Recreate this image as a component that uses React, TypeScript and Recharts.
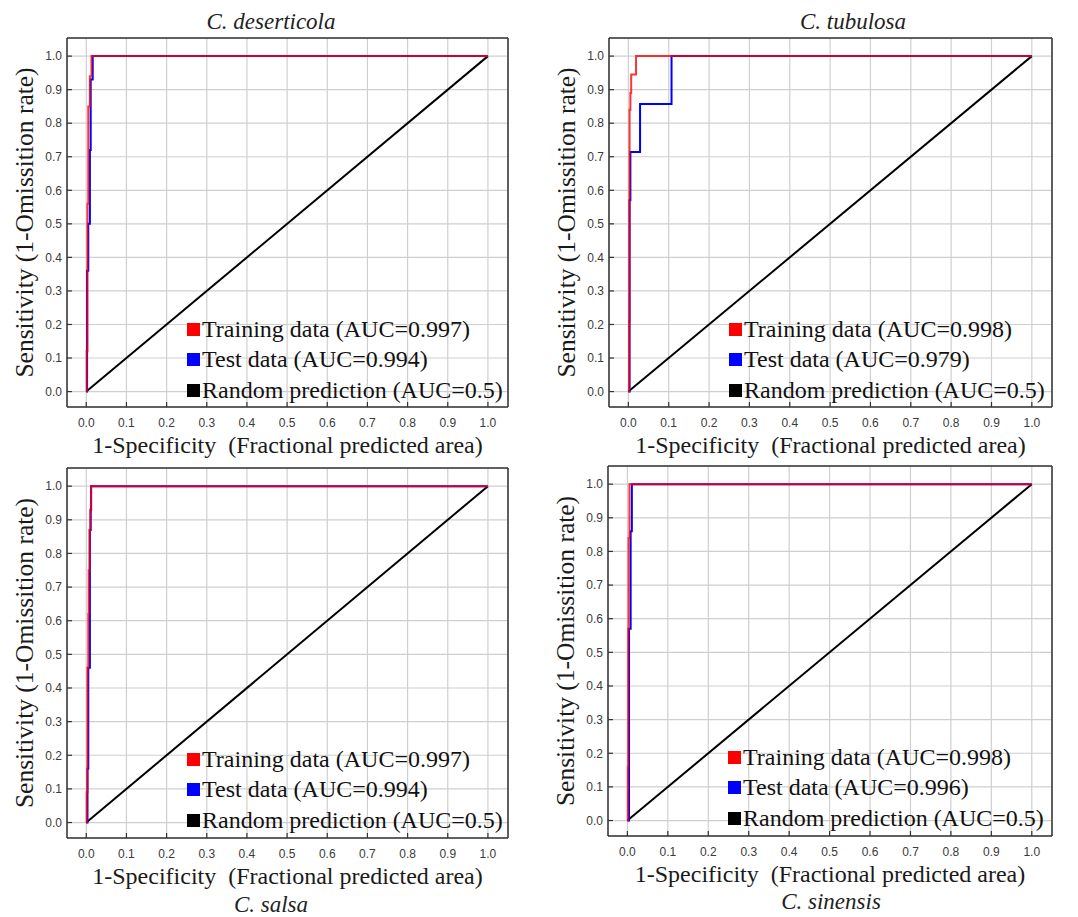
import React from 'react';
import { LineChart, Line, XAxis, YAxis, CartesianGrid, Legend } from 'recharts';

type Pt = { x: number; y: number };

const TICKS = [0, 0.1, 0.2, 0.3, 0.4, 0.5, 0.6, 0.7, 0.8, 0.9, 1.0];
const SPECIES = ['C. deserticola', 'C. tubulosa', 'C. salsa', 'C. sinensis'];
const TRAIN_AUC = ['0.997', '0.998', '0.997', '0.998'];
const TEST_AUC = ['0.994', '0.979', '0.994', '0.996'];
const RANDOM_AUC = '0.5';

// ROC vertices (1-specificity, sensitivity)
const deserticolaTrain: Pt[] = [
  { x: 0, y: 0 }, { x: 0.001, y: 0 }, { x: 0.001, y: 0.12 }, { x: 0.003, y: 0.12 },
  { x: 0.003, y: 0.56 }, { x: 0.005, y: 0.56 }, { x: 0.005, y: 0.85 }, { x: 0.009, y: 0.85 },
  { x: 0.009, y: 0.94 }, { x: 0.013, y: 0.94 }, { x: 0.013, y: 1 }, { x: 1, y: 1 },
];
const deserticolaTest: Pt[] = [
  { x: 0, y: 0 }, { x: 0.002, y: 0 }, { x: 0.002, y: 0.36 }, { x: 0.005, y: 0.36 },
  { x: 0.005, y: 0.5 }, { x: 0.009, y: 0.5 }, { x: 0.009, y: 0.72 }, { x: 0.011, y: 0.72 },
  { x: 0.011, y: 0.93 }, { x: 0.016, y: 0.93 }, { x: 0.016, y: 1 }, { x: 1, y: 1 },
];
const tubulosaTrain: Pt[] = [
  { x: 0, y: 0 }, { x: 0.002, y: 0 }, { x: 0.002, y: 0.21 }, { x: 0.003, y: 0.21 },
  { x: 0.003, y: 0.84 }, { x: 0.005, y: 0.84 }, { x: 0.005, y: 0.89 }, { x: 0.007, y: 0.89 },
  { x: 0.007, y: 0.945 }, { x: 0.019, y: 0.945 }, { x: 0.019, y: 1 }, { x: 1, y: 1 },
];
const tubulosaTest: Pt[] = [
  { x: 0, y: 0 }, { x: 0.003, y: 0 }, { x: 0.003, y: 0.57 }, { x: 0.005, y: 0.57 },
  { x: 0.005, y: 0.714 }, { x: 0.029, y: 0.714 }, { x: 0.029, y: 0.857 }, { x: 0.107, y: 0.857 },
  { x: 0.107, y: 1 }, { x: 1, y: 1 },
];
const salsaTrain: Pt[] = [
  { x: 0, y: 0 }, { x: 0.001, y: 0 }, { x: 0.001, y: 0.09 }, { x: 0.003, y: 0.09 },
  { x: 0.003, y: 0.46 }, { x: 0.005, y: 0.46 }, { x: 0.005, y: 0.62 }, { x: 0.006, y: 0.62 },
  { x: 0.006, y: 0.75 }, { x: 0.008, y: 0.75 }, { x: 0.008, y: 0.87 }, { x: 0.01, y: 0.87 },
  { x: 0.01, y: 0.93 }, { x: 0.012, y: 0.93 }, { x: 0.012, y: 1 }, { x: 1, y: 1 },
];
const salsaTest: Pt[] = [
  { x: 0, y: 0 }, { x: 0.003, y: 0 }, { x: 0.003, y: 0.16 }, { x: 0.005, y: 0.16 },
  { x: 0.005, y: 0.46 }, { x: 0.009, y: 0.46 }, { x: 0.009, y: 0.87 }, { x: 0.011, y: 0.87 },
  { x: 0.011, y: 0.93 }, { x: 0.012, y: 0.93 }, { x: 0.012, y: 1 }, { x: 1, y: 1 },
];
const sinensisTrain: Pt[] = [
  { x: 0, y: 0 }, { x: 0.001, y: 0 }, { x: 0.001, y: 0.16 }, { x: 0.002, y: 0.16 },
  { x: 0.002, y: 0.57 }, { x: 0.003, y: 0.57 }, { x: 0.003, y: 0.84 }, { x: 0.005, y: 0.84 },
  { x: 0.005, y: 1 }, { x: 1, y: 1 },
];
const sinensisTest: Pt[] = [
  { x: 0, y: 0 }, { x: 0.004, y: 0 }, { x: 0.004, y: 0.57 }, { x: 0.008, y: 0.57 },
  { x: 0.008, y: 0.86 }, { x: 0.011, y: 0.86 }, { x: 0.011, y: 1 }, { x: 1, y: 1 },
];
const randomLine: Pt[] = [{ x: 0, y: 0 }, { x: 1, y: 1 }];

const TRAIN = [deserticolaTrain, tubulosaTrain, salsaTrain, sinensisTrain];
const TEST = [deserticolaTest, tubulosaTest, salsaTest, sinensisTest];

// frame rectangle of each panel + title placement
const PANELS = [
  { left: 67, top: 38, w: 441, h: 369, titleX: 271, titleTop: 11 },
  { left: 609, top: 38, w: 443, h: 369, titleX: 853, titleTop: 11 },
  { left: 67, top: 468, w: 441, h: 370, titleX: 271, titleTop: 894 },
  { left: 608, top: 466, w: 444, h: 370, titleX: 831, titleTop: 891 },
];

const SERIF = '"Liberation Serif", "Times New Roman", serif';
const SANS = '"Liberation Sans", Arial, sans-serif';
const X_DOMAIN = [-0.048, 1.05];
const Y_DOMAIN = [-0.046, 1.054];
const FRAME = '#333';

function RocLegend({ items }: { items: { label: string; color: string }[] }) {
  return (
    <div style={{ fontFamily: SERIF, fontSize: 24, color: '#111' }}>
      {items.map((it) => (
        <div key={it.label} style={{ display: 'flex', alignItems: 'center', height: 30.5, whiteSpace: 'nowrap' }}>
          <span style={{ display: 'inline-block', width: 13, height: 13, background: it.color, marginRight: 2 }} />
          {it.label}
        </div>
      ))}
    </div>
  );
}

function RocPanel({ idx }: { idx: number }) {
  const p = PANELS[idx];
  const width = 70 + p.w + 11;
  const height = 40 + p.h + 60;
  const items = [
    { label: `Training data (AUC=${TRAIN_AUC[idx]})`, color: '#ff0000' },
    { label: `Test data (AUC=${TEST_AUC[idx]})`, color: '#0000ff' },
    { label: `Random prediction (AUC=${RANDOM_AUC})`, color: '#000000' },
  ];
  const tickStyle = { fontSize: 12, fontFamily: SANS, fill: '#3a3a3a' };

  return (
    <>
      <div
        style={{
          position: 'absolute', left: p.titleX - 150, top: p.titleTop, width: 300, textAlign: 'center',
          fontFamily: SERIF, fontStyle: 'italic', fontSize: 23, lineHeight: '22px', color: '#222',
        }}
      >
        {SPECIES[idx]}
      </div>
      <div style={{ position: 'absolute', left: p.left - 70, top: p.top - 40 }}>
        <LineChart width={width} height={height} margin={{ top: 39, right: 10, bottom: 0, left: 0 }}>
          <CartesianGrid stroke="#cfcfcf" strokeWidth={1.2} />
          <XAxis
            type="number" dataKey="x" domain={X_DOMAIN} ticks={TICKS} allowDataOverflow
            height={60} tickSize={-5} tickMargin={16} tick={tickStyle}
            tickFormatter={(v: number) => v.toFixed(1)}
            axisLine={{ stroke: FRAME, strokeWidth: 1.5 }} tickLine={{ stroke: FRAME, strokeWidth: 1.2 }}
            label={{
              value: '1-Specificity\u00a0 (Fractional predicted area)', position: 'insideBottom', offset: 14,
              style: { fontFamily: SERIF, fontSize: 24, fill: '#1a1a1a' },
            }}
          />
          <XAxis
            xAxisId="top" orientation="top" type="number" dataKey="x" domain={X_DOMAIN} ticks={TICKS}
            allowDataOverflow height={1} tickSize={-5} tick={false}
            axisLine={{ stroke: FRAME, strokeWidth: 1.5 }} tickLine={{ stroke: FRAME, strokeWidth: 1.2 }}
          />
          <YAxis
            type="number" dataKey="y" domain={Y_DOMAIN} ticks={TICKS} allowDataOverflow
            width={70} tickSize={-5} tickMargin={10} tick={tickStyle}
            tickFormatter={(v: number) => v.toFixed(1)}
            axisLine={{ stroke: FRAME, strokeWidth: 1.5 }} tickLine={{ stroke: FRAME, strokeWidth: 1.2 }}
            label={{
              value: 'Sensitivity (1-Omissition rate)', angle: -90, position: 'insideLeft', offset: 27,
              style: { fontFamily: SERIF, fontSize: 25.5, fill: '#1a1a1a', textAnchor: 'middle' },
            }}
          />
          <YAxis
            yAxisId="right" orientation="right" type="number" domain={Y_DOMAIN} ticks={TICKS}
            allowDataOverflow width={1} tickSize={-5} tick={false}
            axisLine={{ stroke: FRAME, strokeWidth: 1.5 }} tickLine={{ stroke: FRAME, strokeWidth: 1.2 }}
          />
          <Line data={randomLine} dataKey="y" stroke="#000" strokeWidth={2} dot={false} isAnimationActive={false} />
          <Line data={TEST[idx]} dataKey="y" stroke="#0000ff" strokeWidth={2} dot={false} isAnimationActive={false} />
          <Line
            data={TRAIN[idx]} dataKey="y" stroke="#ff0000" strokeOpacity={0.8} strokeWidth={2}
            dot={false} isAnimationActive={false}
          />
          <Legend
            layout="vertical" align="center" verticalAlign="middle"
            wrapperStyle={{ left: 70 + 120, top: 40 + 291 - 15, width: 'auto' }}
            content={() => <RocLegend items={items} />}
          />
        </LineChart>
      </div>
    </>
  );
}

export default function App() {
  return (
    <div style={{ position: 'absolute', left: 0, top: 0, width: 1078, height: 917, background: '#fff' }}>
      {PANELS.map((_, i) => (
        <RocPanel key={i} idx={i} />
      ))}
    </div>
  );
}
